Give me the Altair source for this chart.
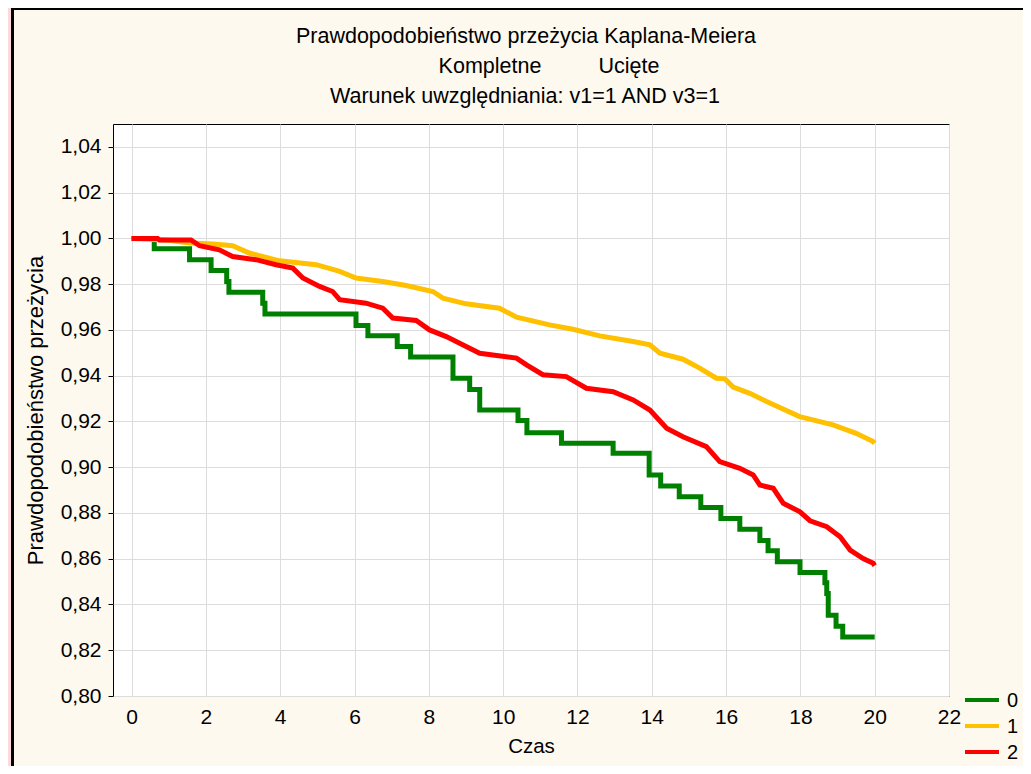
import altair as alt
import pandas as pd

# ---- data ----
series_names = ["0", "1", "2"]
series_colors = ["#008000", "#FFC000", "#FF0000"]

green_t = [0, 0.61, 1.56, 2.14, 2.56, 2.62, 3.53, 3.59, 6.04, 6.36, 7.15, 7.51,
           8.65, 9.10, 9.37, 10.40, 10.64, 11.57, 12.96, 13.93, 14.24, 14.74,
           15.32, 15.86, 16.37, 16.91, 17.13, 17.38, 17.99, 18.66, 18.71, 18.75,
           18.96, 19.14, 20.0]
green_s = [1.0, 0.9955, 0.9907, 0.9860, 0.9812, 0.9765, 0.9717, 0.9670, 0.9619,
           0.9574, 0.9527, 0.9482, 0.9389, 0.9340, 0.9250, 0.9204, 0.9151, 0.9105,
           0.9061, 0.8966, 0.8918, 0.8871, 0.8824, 0.8776, 0.8729, 0.8680, 0.8635,
           0.8587, 0.8540, 0.8495, 0.8448, 0.8353, 0.8305, 0.8258, 0.8258]

yellow_t = [0, 1.0, 1.56, 2.2, 2.72, 3.17, 3.98, 4.97, 5.6, 6.04, 6.76, 7.39, 8.11,
            8.38, 9.0, 9.9, 10.36, 11.25, 11.88, 12.6, 13.5, 13.95, 14.22, 14.84,
            15.29, 15.74, 15.97, 16.19, 16.64, 17.09, 17.98, 18.88, 19.5, 19.96, 20.0]
yellow_s = [1.0, 0.9992, 0.9980, 0.9975, 0.9968, 0.9936, 0.9902, 0.9885, 0.9856,
            0.9827, 0.9812, 0.9794, 0.9768, 0.9739, 0.9714, 0.9695, 0.9656, 0.9622,
            0.9603, 0.9574, 0.9549, 0.9535, 0.9498, 0.9472, 0.9433, 0.9389, 0.9386,
            0.9350, 0.9323, 0.9287, 0.9221, 0.9185, 0.9148, 0.9112, 0.9105]

red_t = [0, 0.7, 0.75, 1.6, 1.83, 2.36, 2.72, 3.35, 3.89, 4.34, 4.61, 5.06, 5.41,
         5.6, 6.31, 6.76, 7.03, 7.66, 8.02, 8.47, 8.83, 9.37, 10.36, 10.63, 11.07,
         11.7, 12.24, 12.96, 13.5, 13.95, 14.4, 14.84, 15.47, 15.83, 16.37, 16.73,
         16.91, 17.27, 17.54, 17.99, 18.26, 18.71, 19.07, 19.34, 19.69, 19.96, 20.0]
red_s = [1.0, 1.0, 0.9993, 0.9993, 0.9968, 0.9950, 0.9921, 0.9907, 0.9885, 0.9870,
         0.9827, 0.9790, 0.9768, 0.9732, 0.9717, 0.9695, 0.9652, 0.9641, 0.9600,
         0.9571, 0.9542, 0.9498, 0.9477, 0.9447, 0.9404, 0.9396, 0.9345, 0.9330,
         0.9294, 0.9250, 0.9170, 0.9133, 0.9090, 0.9024, 0.8995, 0.8966, 0.8922,
         0.8908, 0.8842, 0.8805, 0.8766, 0.8740, 0.8696, 0.8638, 0.8601, 0.8580,
         0.8570]

x_ticks = [0, 2, 4, 6, 8, 10, 12, 14, 16, 18, 20, 22]
y_ticks = [0.80, 0.82, 0.84, 0.86, 0.88, 0.90, 0.92, 0.94, 0.96, 0.98, 1.00, 1.02, 1.04]

title_line1 = "Prawdopodobieństwo przeżycia Kaplana-Meiera"
title_complete = "Kompletne"
title_censored = "Ucięte"
title_line3 = "Warunek uwzględniania: v1=1 AND v3=1"
x_title = "Czas"
y_title = "Prawdopodobieństwo przeżycia"

FONT = "Liberation Sans"

def frame(ts, ss, name):
    return pd.DataFrame({"t": ts, "s": ss, "grupa": name})

df = pd.concat([frame(green_t, green_s, "0"),
                frame(yellow_t, yellow_s, "1"),
                frame(red_t, red_s, "2")], ignore_index=True)

W, H = 836, 572

x_enc = alt.X("t:Q", scale=alt.Scale(domain=[-0.5, 22], nice=False, zero=False),
              axis=alt.Axis(values=x_ticks, title=x_title, grid=True, ticks=False,
                            domain=False, labelFontSize=21, labelFont=FONT,
                            labelColor="black", labelPadding=10, titleFontSize=20.5,
                            titleFont=FONT, titleFontWeight="normal", titleColor="black",
                            titlePadding=9, gridColor="#DCDCDC", labelFlush=False))
y_enc = alt.Y("s:Q", scale=alt.Scale(domain=[0.80, 1.05], nice=False, zero=False),
              axis=alt.Axis(values=y_ticks, title=y_title, grid=True, ticks=True,
                            tickSize=5, tickColor="black", domain=False,
                            labelExpr="replace(format(datum.value, '.2f'), '.', ',')",
                            labelFontSize=21, labelFont=FONT, labelColor="black",
                            labelPadding=7, titleFontSize=22, titleFont=FONT,
                            titleFontWeight="normal", titleColor="black",
                            titlePadding=13, gridColor="#DCDCDC", labelFlush=False))
color_enc = alt.Color("grupa:N",
                      scale=alt.Scale(domain=series_names, range=series_colors),
                      legend=None)

base = alt.Chart(df)
green = base.transform_filter("datum.grupa == '0'").mark_line(
    interpolate="step-after", strokeWidth=5).encode(x=x_enc, y=y_enc, color=color_enc)
yellow = base.transform_filter("datum.grupa == '1'").mark_line(
    strokeWidth=5).encode(x=x_enc, y=y_enc, color=color_enc)
red = base.transform_filter("datum.grupa == '2'").mark_line(
    strokeWidth=5).encode(x=x_enc, y=y_enc, color=color_enc)

dummy = alt.Data(values=[{}])

def txt(text, x, y, size=20, align="center"):
    return alt.Chart(dummy).mark_text(font=FONT, fontSize=size, color="black",
                                      align=align, baseline="middle").encode(
        x=alt.value(x), y=alt.value(y), text=alt.value(text))

def box(x, x2, y, y2, color):
    return alt.Chart(dummy).mark_rect(color=color).encode(
        x=alt.value(x), x2=alt.value(x2), y=alt.value(y), y2=alt.value(y2))

# hand-placed legend (matches the reference's compact key)
legend_layers = []
legend_y0, legend_step = 576, 26
for i, (name, col) in enumerate(zip(series_names, series_colors)):
    ly = legend_y0 + i * legend_step
    legend_layers.append(box(852, 886, ly - 2, ly + 2, col))
    legend_layers.append(txt(name, 894, ly + 1, 20, "left"))

layers = [
    box(-105, -102, -116, 700, "#FFD9DA"),
    box(-102, -99, -116, 700, "#000000"),
    box(-102, 920, -116, -114, "#000000"),
    txt(title_line1, 413, -87, 21.5),
    txt(title_complete, 377, -57, 21.5),
    txt(title_censored, 516, -57, 21.5),
    txt(title_line3, 412, -27, 21.5),
    green, yellow, red,
] + legend_layers

chart = alt.layer(*layers).properties(
    width=W, height=H,
    autosize=alt.AutoSizeParams(type="none"),
    padding={"left": 105, "top": 116, "right": 74, "bottom": 70},
    background="#FDF9EF",
).configure_view(fill="white", stroke="black", strokeWidth=1)

chart.save("out.html", embed_options={"renderer": "svg", "actions": False})
